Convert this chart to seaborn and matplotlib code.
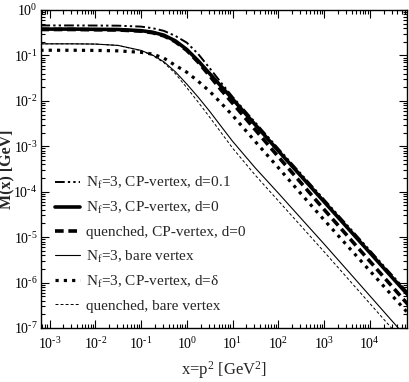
import numpy as np
import pandas as pd
import matplotlib
matplotlib.use("Agg")
import matplotlib.pyplot as plt
import matplotlib.ticker as mticker
import seaborn as sns

# ---- data ----
x_vals = [6.3e-4, 3.16e-3, 0.01, 0.0316, 0.1, 0.178, 0.316, 0.562, 1.0, 1.78, 3.16, 5.62,
          10, 31.6, 100, 316, 1000, 3160, 1e4, 3.16e4, 7.08e4]

m_nf3_cp_d01 = [0.457, 0.457, 0.455, 0.452, 0.431, 0.398, 0.347, 0.269, 0.191, 0.107, 0.0525, 0.0251,
                0.0123, 3.31e-3, 8.91e-4, 2.45e-4, 6.76e-5, 1.86e-5, 5.13e-6, 1.41e-6, 5.75e-7]
m_nf3_cp_d0 = [0.380, 0.380, 0.376, 0.372, 0.351, 0.324, 0.279, 0.209, 0.135, 0.0759, 0.0398, 0.0209,
               0.011, 2.95e-3, 7.94e-4, 2.19e-4, 6.03e-5, 1.66e-5, 4.57e-6, 1.26e-6, 5.13e-7]
m_q_cp_d0 = [0.372, 0.372, 0.367, 0.363, 0.343, 0.316, 0.269, 0.200, 0.129, 0.0708, 0.0355, 0.0174,
             8.91e-3, 2.29e-3, 5.89e-4, 1.55e-4, 4.07e-5, 1.10e-5, 2.95e-6, 7.94e-7, 3.16e-7]
m_nf3_bare = [0.180, 0.180, 0.178, 0.166, 0.129, 0.102, 0.0724, 0.0437, 0.0234, 0.012, 5.89e-3, 2.75e-3,
              1.29e-3, 3.31e-4, 9.33e-5, 2.57e-5, 7.08e-6, 1.91e-6, 5.13e-7, 1.38e-7, 5.5e-8]
m_nf3_cp_delta = [0.130, 0.130, 0.129, 0.126, 0.117, 0.107, 0.0871, 0.0603, 0.0427, 0.0269, 0.0162, 8.91e-3,
                  4.79e-3, 1.26e-3, 3.39e-4, 8.91e-5, 2.40e-5, 6.61e-6, 1.82e-6, 5.01e-7, 2.04e-7]
m_q_bare = [0.180, 0.180, 0.178, 0.166, 0.127, 0.100, 0.0692, 0.0398, 0.0195, 9.33e-3, 4.37e-3, 2.0e-3,
            9.12e-4, 2.29e-4, 6.31e-5, 1.74e-5, 4.79e-6, 1.29e-6, 3.47e-7, 9.33e-8, 3.72e-8]

x_tick_exps = [-3, -2, -1, 0, 1, 2, 3, 4]
y_tick_exps = [-7, -6, -5, -4, -3, -2, -1, 0]

labels = [
    "N$_\\mathrm{f}$=3, CP-vertex, d=0.1",
    "N$_\\mathrm{f}$=3, CP-vertex, d=0",
    "quenched, CP-vertex, d=0",
    "N$_\\mathrm{f}$=3, bare vertex",
    "N$_\\mathrm{f}$=3, CP-vertex, d=\u03b4",
    "quenched, bare vertex",
]
series = [m_nf3_cp_d01, m_nf3_cp_d0, m_q_cp_d0, m_nf3_bare, m_nf3_cp_delta, m_q_bare]

styles = [
    dict(lw=1.4, linestyle=(0, (5, 1.6, 1.2, 1.6, 1.2, 1.6))),
    dict(lw=2.6, linestyle="-"),
    dict(lw=2.6, linestyle=(0, (2.4, 1.3))),
    dict(lw=0.8, linestyle="-"),
    dict(lw=2.3, linestyle=(0, (1, 1.6))),
    dict(lw=0.7, linestyle=(0, (3, 2.2))),
]

sns.set_theme(style="ticks")
plt.rcParams["font.family"] = ["Liberation Serif", "DejaVu Serif"]
plt.rcParams["mathtext.fontset"] = "custom"
plt.rcParams["mathtext.rm"] = "Liberation Serif"
plt.rcParams["mathtext.it"] = "Liberation Serif:italic"
plt.rcParams["mathtext.bf"] = "Liberation Serif:bold"

fig = plt.figure(figsize=(4.09, 3.82), dpi=100)
ax = fig.add_axes([41 / 409, 1 - 328 / 382, 366 / 409, 318 / 382])

for lab, vals, st in zip(labels, series, styles):
    df = pd.DataFrame({"x": x_vals, "M": vals})
    sns.lineplot(data=df, x="x", y="M", ax=ax, color="black", label=lab,
                 sort=False, estimator=None, legend=False, **st)

ax.set_xscale("log")
ax.set_yscale("log")
ax.set_xlim(6.5e-4, 6.5e4)
ax.set_ylim(1e-7, 1)


def pow_fmt(v, pos):
    n = int(round(np.log10(v)))
    if n < 0:
        return "$10^{\u2010%d}$" % (-n)
    return "$10^{%d}$" % n


ax.xaxis.set_major_locator(mticker.FixedLocator([10.0 ** e for e in x_tick_exps]))
ax.xaxis.set_minor_locator(mticker.LogLocator(base=10, subs=np.arange(2, 10), numticks=20))
ax.yaxis.set_major_locator(mticker.FixedLocator([10.0 ** e for e in y_tick_exps]))
ax.yaxis.set_minor_locator(mticker.LogLocator(base=10, subs=np.arange(2, 10), numticks=20))
ax.xaxis.set_major_formatter(mticker.FuncFormatter(pow_fmt))
ax.yaxis.set_major_formatter(mticker.FuncFormatter(pow_fmt))
ax.xaxis.set_minor_formatter(mticker.NullFormatter())
ax.yaxis.set_minor_formatter(mticker.NullFormatter())

ax.tick_params(which="both", direction="in", top=True, right=True, colors="black",
               labelsize=10, width=0.8)
ax.tick_params(axis="x", which="major", pad=6)
ax.tick_params(axis="y", which="major", pad=2.5)
ax.tick_params(which="major", length=6)
ax.tick_params(which="minor", length=3)
for sp in ax.spines.values():
    sp.set_linewidth(1.0)
    sp.set_color("black")

ax.set_xlabel("x=p$^2$ [GeV$^2$]", fontsize=12, labelpad=5)
ax.set_ylabel("M(x) [GeV]", fontsize=11.5, fontweight="bold")
ax.yaxis.set_label_coords(-0.072, 0.5)

handles, labs = ax.get_legend_handles_labels()
ax.legend(handles, labs, loc="upper left", bbox_to_anchor=(0.022, 0.50), frameon=False,
          fontsize=11, handlelength=1.6, handletextpad=0.45, labelspacing=0.6,
          borderaxespad=0.0)

fig.savefig("out.png", dpi=100)
